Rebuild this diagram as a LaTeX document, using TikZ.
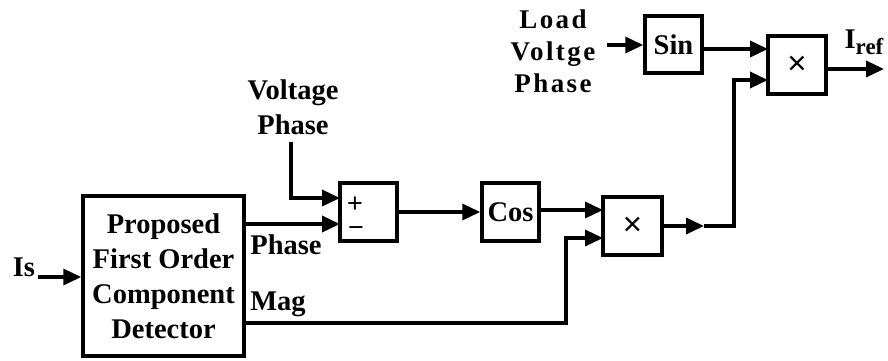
\documentclass[tikz,border=0pt]{standalone}
\usepackage{fontspec}
\setmainfont{Liberation Serif}
\newfontfamily\spacedfont[LetterSpace=9]{Liberation Serif}
\newfontfamily\signfont{Liberation Sans}
\usetikzlibrary{arrows.meta,positioning,calc}

\begin{document}
\begin{tikzpicture}[
        x=1pt,y=-1pt,
        line width=3.5pt,
        blk/.style={draw,line width=3.5pt,inner sep=0pt,align=center,font=\fontsize{28.5}{35}\selectfont\bfseries},
        lbl/.style={inner sep=0pt,align=center,font=\fontsize{28.5}{35}\selectfont\bfseries},
        sgn/.style={inner sep=0pt,font=\fontsize{27}{27}\selectfont\signfont},
        arr/.style={-{Triangle[length=18pt,width=16pt]}}
    ]
    \useasboundingbox (0,0) rectangle (888,360);
    % blocks
    \node[blk,minimum width=161pt,minimum height=160pt] (det) at (163.5,276) {Proposed\\First Order\\Component\\Detector};
    \node[blk,minimum width=57pt,minimum height=58pt] (sum) at (368.5,212) {};
    \node[blk,minimum width=57pt,minimum height=58pt] (cos) at (510.5,212) {Cos};
    \node[blk,minimum width=59pt,minimum height=58pt] (mtwo) at (632.5,226) {\mdseries\fontsize{33}{33}\selectfont\signfont ×};
    \node[blk,minimum width=57pt,minimum height=57pt] (sin) at (673.5,44.5) {Sin};
    \node[blk,minimum width=58pt,minimum height=58pt] (mone) at (797,65) {\mdseries\fontsize{33}{33}\selectfont\signfont ×};
    \node[sgn] (plus) at (355,205) {+};
    \node[sgn] (minus) at (356,232) {−};
    % labels
    \node[lbl] (is) at (24,267) {Is};
    \node[lbl] (vph) at (293,107) {Voltage\\Phase};
    \node[lbl,font=\fontsize{27}{32}\selectfont\bfseries\spacedfont] (load) at (553,51) {Load\\Voltge\\Phase};
    \node[lbl] (phase) at (286,245) {Phase};
    \node[lbl] (mag) at (278,304) {Mag};
    \node[lbl] (iref) at (864,42) {I\raisebox{-6pt}{\fontsize{23}{23}\selectfont ref}};
    % ports
    \coordinate (isin) at (38,277);
    \coordinate (vtop) at (291,142);
    \coordinate (sumA) at (340,198);
    \coordinate (sumB) at (340,224);
    \coordinate (mtwoA) at (603,210);
    \coordinate (mtwoB) at (603,238);
    \coordinate (magy) at (244,323);
    \coordinate (magbend) at (566,323);
    \coordinate (mtwomid) at (704,226);
    \coordinate (rise) at (734,226);
    \coordinate (moneA) at (768,49);
    \coordinate (moneB) at (768,80);
    \coordinate (ldin) at (607,45);
    \coordinate (out) at (884,69);
    % connectors
    \draw[arr] (isin) -- (isin -| det.west);
    \draw[arr] (vtop) |- (sumA);
    \draw[arr] (det.east |- sumB) -- (sumB);
    \draw[arr] (sum.east) -- (cos.west);
    \draw[arr] (cos.east |- mtwoA) -- (mtwoA);
    \draw[arr] (magy) -- (magbend) |- (mtwoB);
    \draw[arr] (mtwo.east) -- (mtwomid);
    \draw[arr] (mtwomid) -- (rise) |- (moneB);
    \draw[arr] (ldin) -- (sin.west |- ldin);
    \draw[arr] (sin.east |- moneA) -- (moneA);
    \draw[arr] (mone.east |- out) -- (out);
\end{tikzpicture}
\end{document}
